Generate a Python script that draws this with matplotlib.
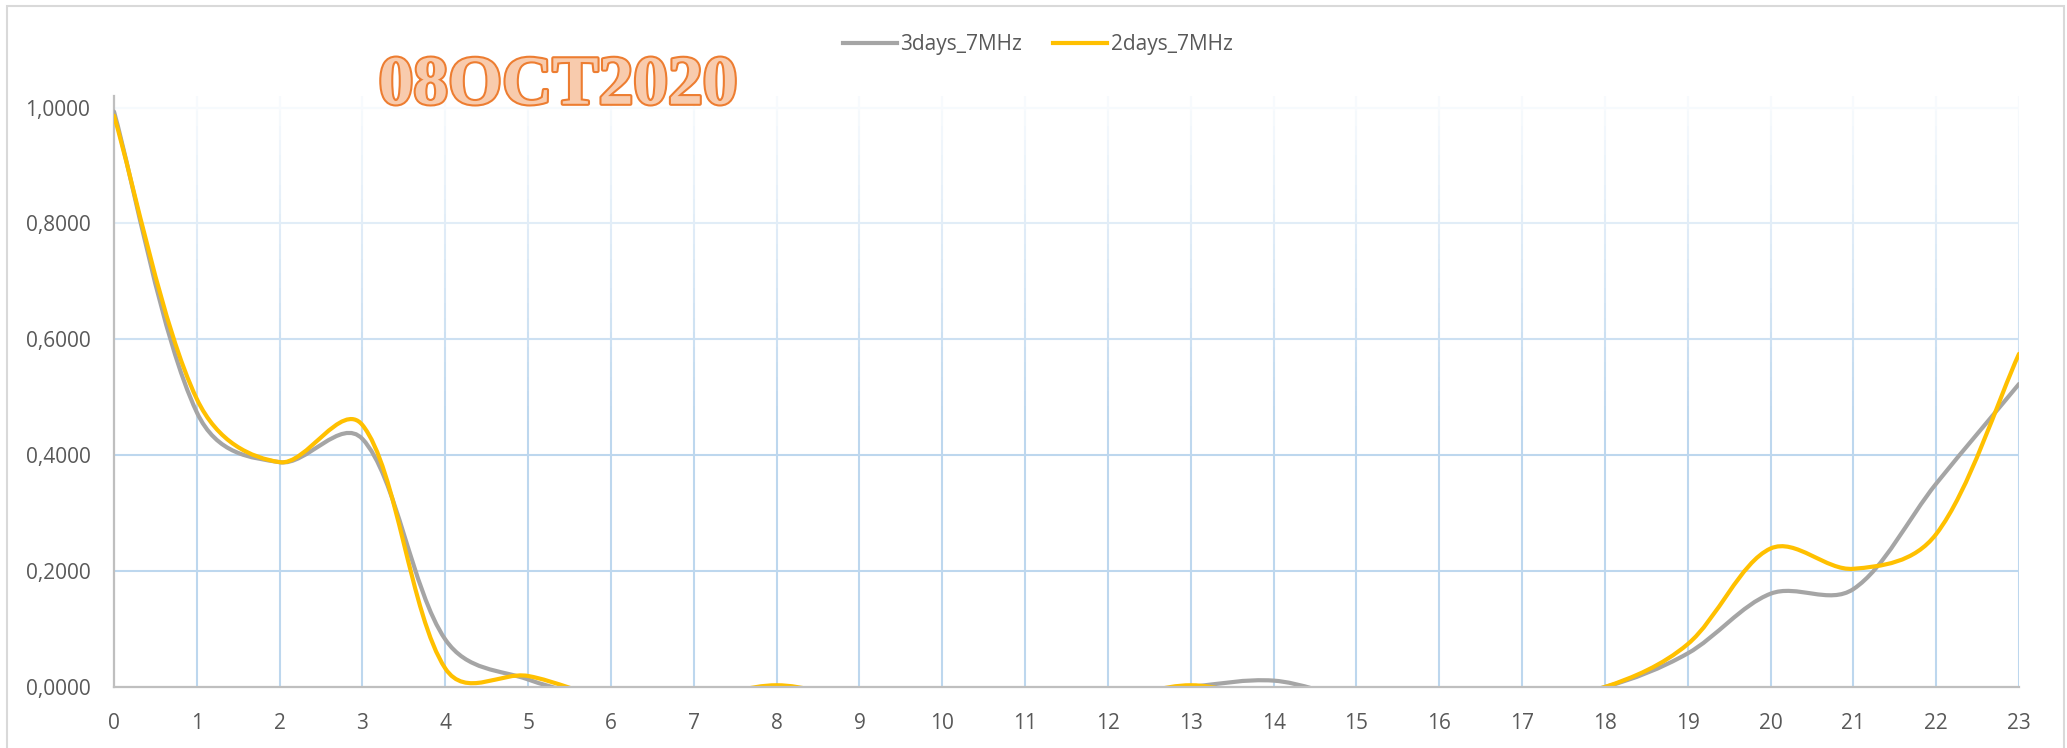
import numpy as np
import matplotlib
matplotlib.use('Agg')
import matplotlib.pyplot as plt
from matplotlib.path import Path
from matplotlib.patches import PathPatch, Rectangle
from matplotlib.lines import Line2D
from matplotlib.collections import LineCollection
import matplotlib.patheffects as pe

# data (hour of day); small negatives sit under the axis
hours = list(range(24))
days3_7mhz = [0.993, 0.474, 0.388, 0.428, 0.082, 0.013, -0.02, -0.02, -0.02, -0.02,
              -0.02, -0.02, -0.02, 0.0, 0.011, -0.02, -0.02, -0.02, 0.0, 0.058,
              0.161, 0.169, 0.351, 0.523]
days2_7mhz = [0.986, 0.497, 0.388, 0.452, 0.032, 0.019, -0.02, -0.02, 0.003, -0.02,
              -0.02, -0.02, -0.02, 0.003, -0.02, -0.02, -0.02, -0.02, 0.0, 0.074,
              0.239, 0.204, 0.264, 0.575]
series_names = ['3days_7MHz', '2days_7MHz']
series_colors = ['#A5A5A5', '#FFC000']
y_ticks = [0.0, 0.2, 0.4, 0.6, 0.8, 1.0]

plt.rcParams['font.family'] = ['Open Sans', 'DejaVu Sans']


def smooth_path(ax, x, y):
    # excel-like smoothed line, control points worked out in screen space
    pts = ax.transData.transform(np.column_stack([x, y]))
    n = len(pts)
    verts = [pts[0]]
    codes = [Path.MOVETO]
    after, before = [], []
    for i in range(n):
        p0 = pts[max(i - 1, 0)]
        p1 = pts[i]
        p2 = pts[min(i + 1, n - 1)]
        d01 = np.hypot(*(p1 - p0))
        d12 = np.hypot(*(p2 - p1))
        tot = d01 + d12 if d01 + d12 > 0 else 1.0
        t = p2 - p0
        # half catmull-rom, half length weighted
        wa = 0.5 / 6.0 + 0.5 * d12 / tot / 3.0
        wb = 0.5 / 6.0 + 0.5 * d01 / tot / 3.0
        after.append(p1 + t * wa)
        before.append(p1 - t * wb)
    for i in range(n - 1):
        verts += [after[i], before[i + 1], pts[i + 1]]
        codes += [Path.CURVE4] * 3
    verts = ax.transData.inverted().transform(np.array(verts))
    return Path(verts, codes)


fig = plt.figure(figsize=(20.67, 7.48), dpi=100)
ax = fig.add_axes([0.05515, 0.08155, 0.92165, 0.79015])
ax.set_xlim(0, 23)
ax.set_ylim(0, 1.02)

# gridlines fading towards the top
def grid_col(v):
    f = np.clip((1.08 - v) / 0.62, 0.12, 1.0)
    base = np.array([0.741, 0.843, 0.933])
    return tuple(1 - (1 - base) * f)

for v in y_ticks[1:]:
    ax.axhline(v, color=grid_col(v), lw=1.5, zorder=1)

segs, cols = [], []
ys = np.linspace(0, 1.02, 41)
for h in hours[1:]:
    for a, b in zip(ys[:-1], ys[1:]):
        segs.append([(h, a), (h, b)])
        cols.append(grid_col((a + b) / 2))
ax.add_collection(LineCollection(segs, colors=cols, linewidths=1.5, zorder=1))

for vals, col in zip([days3_7mhz, days2_7mhz], series_colors):
    patch = PathPatch(smooth_path(ax, hours, vals), facecolor='none', edgecolor=col,
                      lw=3, capstyle='round', joinstyle='round', zorder=3)
    ax.add_patch(patch)

for s in ['top', 'right']:
    ax.spines[s].set_visible(False)
ax.spines['bottom'].set_color('#BFBFBF')
ax.spines['bottom'].set_linewidth(1.6)
ax.spines['bottom'].set_zorder(4)
ax.spines['left'].set_color('#BFBFBF')
ax.spines['left'].set_linewidth(1.6)

ax.set_xticks(hours)
ax.set_xticklabels([str(h) for h in hours])
ax.set_yticks(y_ticks)
ax.set_yticklabels([f'{v:.4f}'.replace('.', ',') for v in y_ticks])
ax.tick_params(axis='x', length=0, pad=19, labelsize=15, labelcolor='#595959')
ax.tick_params(axis='y', length=0, pad=17, labelsize=15, labelcolor='#595959')

handles = [Line2D([], [], color=c, lw=3) for c in series_colors]
fig.legend(handles, series_names, loc='center', bbox_to_anchor=(0.502, 0.94),
           ncol=2, frameon=False, fontsize=15, labelcolor='#595959',
           handlelength=2.6, handletextpad=0.15, columnspacing=1.5)

fig.text(0.270, 0.884, '08OCT2020', ha='center', va='center', fontsize=50,
         fontweight='bold', family='Liberation Serif', color='#F8CBAD',
         path_effects=[pe.withStroke(linewidth=3, foreground='#ED7D31')])

# chart border
fig.patches.append(Rectangle((0.0034, -0.005), 0.995, 0.997, transform=fig.transFigure,
                             fill=False, edgecolor='#D9D9D9', lw=1.5))

fig.savefig('out.png', dpi=100)
